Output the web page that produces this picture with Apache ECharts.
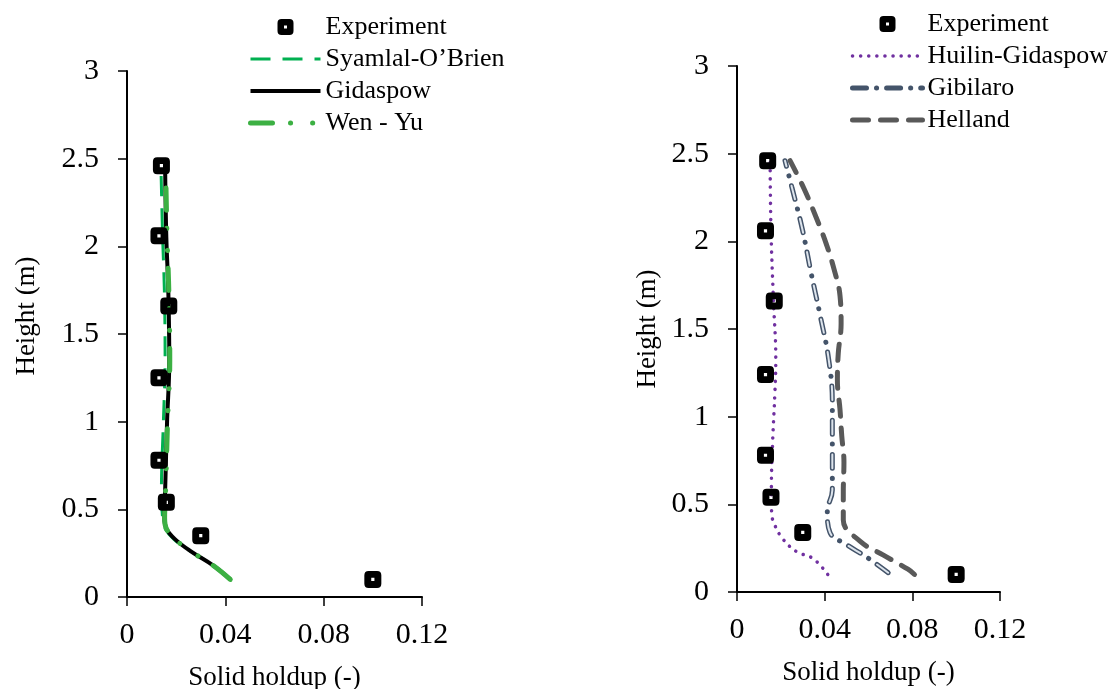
<!DOCTYPE html>
<html>
<head>
<meta charset="utf-8">
<script src="https://cdn.jsdelivr.net/npm/echarts@6/dist/echarts.min.js"></script>
<style>
  html, body { margin: 0; padding: 0; background: #fff; }
  #main { width: 1117px; height: 689px; }
</style>
</head>
<body>
<div id="main"></div>
<script>
// 实验数据 (左右两图)
var expHeightL = [2.46, 2.06, 1.66, 1.25, 0.78, 0.54, 0.35, 0.10];
var expHoldupL = [0.014, 0.013, 0.017, 0.013, 0.013, 0.016, 0.030, 0.100];
var expHeightR = [2.46, 2.06, 1.66, 1.24, 0.78, 0.54, 0.34, 0.10];
var expHoldupR = [0.014, 0.013, 0.017, 0.013, 0.013, 0.0155, 0.030, 0.100];

// 左图 曳力模型
var gidHeight = [0.10, 0.18, 0.26, 0.33, 0.39, 0.45, 0.60, 1.00, 1.35, 1.75, 2.05, 2.46];
var gidHoldup = [0.042, 0.035, 0.026, 0.0195, 0.016, 0.0152, 0.0155, 0.0163, 0.0172, 0.0168, 0.016, 0.0155];
var syaHoldup = [0.042, 0.035, 0.026, 0.019, 0.0155, 0.0145, 0.014, 0.0148, 0.0155, 0.0152, 0.0145, 0.0138];
var wenHoldup = [0.042, 0.035, 0.026, 0.0195, 0.016, 0.0153, 0.0157, 0.0165, 0.0174, 0.017, 0.0163, 0.0157];

// 右图 颗粒黏度模型
var huiHeight = [0.10, 0.19, 0.23, 0.30, 0.38, 0.45, 0.60, 0.87, 1.14, 1.33, 1.67, 2.07, 2.46];
var huiHoldup = [0.0414, 0.0348, 0.0272, 0.0211, 0.0173, 0.0158, 0.0157, 0.0163, 0.0173, 0.0177, 0.0166, 0.0155, 0.0151];
var gibHeight = [0.11, 0.20, 0.27, 0.34, 0.46, 0.58, 0.83, 1.08, 1.33, 1.58, 1.82, 2.07, 2.31, 2.46];
var gibHoldup = [0.069, 0.059, 0.050, 0.0424, 0.0412, 0.0435, 0.0435, 0.0435, 0.0418, 0.0379, 0.0338, 0.0298, 0.025, 0.0219];
var helHeight = [0.10, 0.13, 0.21, 0.29, 0.41, 0.57, 0.74, 0.89, 1.04, 1.21, 1.36, 1.53, 1.69, 1.84, 1.99, 2.14, 2.30, 2.46];
var helHoldup = [0.081, 0.078, 0.0668, 0.0561, 0.0485, 0.0485, 0.0488, 0.0478, 0.047, 0.0458, 0.0462, 0.0475, 0.047, 0.0443, 0.0406, 0.036, 0.0306, 0.0242];

var xTicks = [0, 0.04, 0.08, 0.12];
var yTicks = [0, 0.5, 1, 1.5, 2, 2.5, 3];

function pairs(xs, ys) {
  return xs.map(function (x, i) { return [x, ys[i]]; });
}

var font = 'Liberation Serif';

// 黑色圆角方块, 中间留白点
var expSymbol = 'path://M4,0H12Q16,0,16,4V12Q16,16,12,16H4Q0,16,0,12V4Q0,0,4,0ZM6.5,6.5V9.5H9.5V6.5Z';

function xAxisFor(idx) {
  return {
    gridIndex: idx, type: 'value', min: xTicks[0], max: xTicks[xTicks.length - 1], interval: 0.04,
    name: 'Solid holdup (-)', nameLocation: 'middle', nameGap: 67,
    nameTextStyle: { fontFamily: font, fontSize: 27, color: '#000' },
    axisLine: { lineStyle: { color: '#000', width: 2 } },
    axisTick: { show: true, length: 9, lineStyle: { color: '#000', width: 1.5 } },
    axisLabel: { fontFamily: font, fontSize: 30, color: '#000', margin: 23 },
    splitLine: { show: false }
  };
}

function yAxisFor(idx, gap, shift) {
  return {
    gridIndex: idx, type: 'value', min: yTicks[0], max: yTicks[yTicks.length - 1], interval: 0.5,
    name: 'Height (m)', nameLocation: 'middle', nameGap: gap,
    nameTextStyle: { fontFamily: font, fontSize: 27, color: '#000', padding: [0, 0, 0, shift] },
    axisLine: { show: true, lineStyle: { color: '#000', width: 2 } },
    axisTick: { show: true, length: 9, lineStyle: { color: '#000', width: 1.5 } },
    axisLabel: { fontFamily: font, fontSize: 30, color: '#000', margin: 28 },
    splitLine: { show: false }
  };
}

// 图例里的线条: 不画符号, 线宽加粗
function lineItem(name, w) {
  return { name: name, itemStyle: { color: 'rgba(0,0,0,0)', borderWidth: 0, opacity: 0 }, lineStyle: { width: w } };
}

var myChart = echarts.init(document.getElementById('main'));

var option = {
  animation: false,
  grid: [
    { left: 127, top: 71, width: 295, height: 526, outerBoundsMode: 'none' },
    { left: 737, top: 66, width: 263, height: 526, outerBoundsMode: 'none' }
  ],
  legend: [
    {
      orient: 'vertical', left: 243, top: 9, itemWidth: 70, itemHeight: 16, itemGap: 6,
      textStyle: { fontFamily: font, fontSize: 26, color: '#000' },
      data: ['Experiment', lineItem('Syamlal-O\u2019Brien', 3), lineItem('Gidaspow', 4), lineItem('Wen - Yu', 5)]
    },
    {
      orient: 'vertical', left: 845, top: 6, itemWidth: 70, itemHeight: 16, itemGap: 6,
      textStyle: { fontFamily: font, fontSize: 26, color: '#000' },
      data: ['Experiment', lineItem('Huilin-Gidaspow', 3.5), lineItem('Gibilaro', 5), lineItem('Helland', 5)]
    }
  ],
  xAxis: [xAxisFor(0), xAxisFor(1)],
  yAxis: [yAxisFor(0, 87, 36), yAxisFor(1, 76, 0)],
  series: [
    {
      name: 'Syamlal-O\u2019Brien', type: 'line', xAxisIndex: 0, yAxisIndex: 0, smooth: 0.4,
      showSymbol: false, symbol: 'none', data: pairs(syaHoldup, gidHeight),
      lineStyle: { color: '#00b050', width: 3, type: [20, 12] }, itemStyle: { color: '#00b050' }
    },
    {
      name: 'Gidaspow', type: 'line', xAxisIndex: 0, yAxisIndex: 0, smooth: 0.4,
      showSymbol: false, symbol: 'none', data: pairs(gidHoldup, gidHeight),
      lineStyle: { color: '#000', width: 4 }, itemStyle: { color: '#000' }
    },
    {
      name: 'Wen - Yu', type: 'line', xAxisIndex: 0, yAxisIndex: 0, smooth: 0.4,
      showSymbol: false, symbol: 'none', data: pairs(wenHoldup, gidHeight),
      lineStyle: { color: '#3cb043', width: 5, type: [22, 18, 0.1, 22, 0.1, 18], cap: 'round' },
      itemStyle: { color: '#3cb043' }
    },
    {
      name: 'Experiment', type: 'scatter', xAxisIndex: 0, yAxisIndex: 0,
      symbol: expSymbol, symbolSize: 17, data: pairs(expHoldupL, expHeightL),
      itemStyle: { color: '#000', opacity: 1 }, z: 5
    },
    {
      name: 'Huilin-Gidaspow', type: 'line', xAxisIndex: 1, yAxisIndex: 1, smooth: 0.4,
      showSymbol: false, symbol: 'none', data: pairs(huiHoldup, huiHeight),
      lineStyle: { color: '#7030a0', width: 3.5, type: [0.1, 8], cap: 'round' }, itemStyle: { color: '#7030a0' }
    },
    {
      name: 'Gibilaro', type: 'line', xAxisIndex: 1, yAxisIndex: 1, smooth: 0.4,
      showSymbol: false, symbol: 'none', data: pairs(gibHoldup, gibHeight),
      lineStyle: { color: '#44546a', width: 5, type: [14, 10, 0.1, 10], cap: 'round' }, itemStyle: { color: '#44546a' }
    },
    {
      // 虚线内部的浅色填充
      name: 'Gibilaro fill', type: 'line', xAxisIndex: 1, yAxisIndex: 1, smooth: 0.4,
      showSymbol: false, symbol: 'none', data: pairs(gibHoldup, gibHeight), silent: true,
      lineStyle: { color: '#dde4ec', width: 2, type: [14, 20.1], cap: 'round' }
    },
    {
      name: 'Helland', type: 'line', xAxisIndex: 1, yAxisIndex: 1, smooth: 0.4,
      showSymbol: false, symbol: 'none', data: pairs(helHoldup, helHeight),
      lineStyle: { color: '#595959', width: 5, type: [16, 12], cap: 'round' }, itemStyle: { color: '#595959' }
    },
    {
      name: 'Experiment', type: 'scatter', xAxisIndex: 1, yAxisIndex: 1,
      symbol: expSymbol, symbolSize: 17, data: pairs(expHoldupR, expHeightR),
      itemStyle: { color: '#000', opacity: 1 }, z: 5
    }
  ]
};

myChart.setOption(option);
</script>
</body>
</html>
